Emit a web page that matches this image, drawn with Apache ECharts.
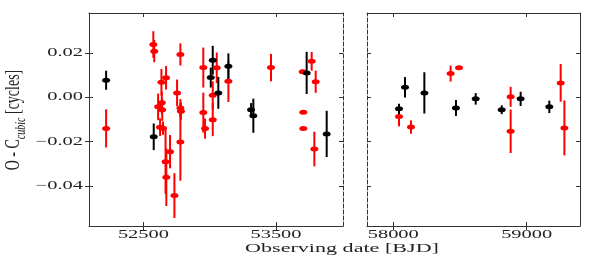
<!DOCTYPE html>
<html><head><meta charset="utf-8">
<script src="https://cdn.jsdelivr.net/npm/echarts@6/dist/echarts.min.js"></script>
<style>html,body{margin:0;padding:0;background:#fff}#c{width:598px;height:259px}</style>
</head><body><div id="c"></div>
<script>
// ---- data ----
const blackDates  = [52219, 52578, 53008, 53023, 53065, 53141, 53312, 53329, 53731, 53882,
                     58043, 58088, 58233, 58470, 58618, 58813, 58955, 59170];
const blackValues = [0.0077, -0.0178, 0.0089, 0.0167, 0.0020, 0.0140, -0.0056, -0.0083, 0.0110, -0.0165,
                     -0.0052, 0.0045, 0.0020, -0.0048, -0.0007, -0.0056, -0.0007, -0.0043];
const blackErrors = [0.0043, 0.0060, 0.0045, 0.0065, 0.0072, 0.0058, 0.0030, 0.0077, 0.0095, 0.0104,
                     0.0023, 0.0046, 0.0093, 0.0036, 0.0026, 0.0020, 0.0032, 0.0028];

const redDates  = [52219, 52575, 52582, 52611, 52626, 52636, 52639, 52642, 52648, 52671, 52667, 52673,
                   52701, 52734, 52754, 52779, 52779, 52783, 52779, 52952, 52952, 52965, 53023, 53023,
                   53053, 53141, 53462, 53701, 53706, 53706, 53769, 53789, 53799,
                   58043, 58133, 58430, 58493, 58880, 58880, 59255, 59283];
const redValues = [-0.0140, 0.0238, 0.0208, -0.0043, -0.0135, 0.0068, -0.0025, -0.0056, -0.0139, 0.0088, -0.0290, -0.0360,
                   -0.0245, -0.0443, 0.0020, 0.0193, -0.0048, -0.0063, -0.0201, 0.0134, -0.0069, -0.0141, 0.0009, -0.0101,
                   0.0133, 0.0072, 0.0134, 0.0115, -0.0067, -0.0141, 0.0162, -0.0233, 0.0070,
                   -0.0086, -0.0134, 0.0107, 0.0133, 0.0002, -0.0153, 0.0065, -0.0138];
const redErrors = [0.0086, 0.0060, 0.0050, 0.0060, 0.0040, 0.0060, 0.0050, 0.0050, 0.0030, 0.0053, 0.0145, 0.0130,
                   0.0075, 0.0101, 0.0060, 0.0050, 0.0040, 0.0040, 0.0175, 0.0090, 0.0090, 0.0045, 0.0063, 0.0074,
                   0.0069, 0.0093, 0.0062, 0.0010, 0.0005, 0.0005, 0.0042, 0.0078, 0.0050,
                   0.0045, 0.0030, 0.0036, 0.0008, 0.0045, 0.0098, 0.0085, 0.0124];

const yTicks = [-0.04, -0.02, 0.00, 0.02];
const yTickLabels = ['\u22120.04', '\u22120.02', '0.00', '0.02'];
const leftXTicks = [52500, 53500];
const rightXTicks = [58000, 59000];
const xTitle = 'Observing date [BJD]';
const BREAK_DATE = 55000;

// ---- layout / style ----
const LEFT_RANGE = [52090, 54005], RIGHT_RANGE = [57803, 59400], Y_RANGE = [-0.058, 0.038];
const G0 = {left: 89, top: 13, width: 254, height: 213};
const G1 = {left: 367, top: 13, width: 213, height: 213};
const FRAME = '#333';
const FONT = '"Liberation Serif", "DejaVu Serif", serif';
const TXT = '#222';
const RED = '#ff0000', BLACK = '#000000';

function pick(dates, vals, errs, right) {
  const out = [];
  dates.forEach((d, i) => { if ((d > BREAK_DATE) === right) out.push([d, vals[i], errs[i]]); });
  return out;
}

function xAx(grid, pos, range, ticks, line, inside, dashed) {
  return {type: 'value', gridIndex: grid, position: pos, min: range[0], max: range[1],
    axisLine: {show: line, onZero: false, lineStyle: {color: FRAME, width: 1, type: dashed ? [4, 2] : 'solid'}},
    axisTick: {show: true, inside: inside, length: 4, customValues: ticks, lineStyle: {color: FRAME, width: 1}},
    axisLabel: {show: false}, splitLine: {show: false}};
}
function yAx(grid, pos, ticks, line, inside, dashed) {
  return {type: 'value', gridIndex: grid, position: pos, min: Y_RANGE[0], max: Y_RANGE[1],
    axisLine: {show: line, onZero: false, lineStyle: {color: FRAME, width: 1, type: dashed ? [4, 2] : 'solid'}},
    axisTick: {show: true, inside: inside, length: 4, customValues: ticks, lineStyle: {color: FRAME, width: 1}},
    axisLabel: {show: false}, splitLine: {show: false}};
}

function errSeries(data, color, xi, yi) {
  return {type: 'custom', xAxisIndex: xi, yAxisIndex: yi, data: data, silent: true,
    encode: {x: 0, y: 1},
    renderItem: function (params, api) {
      const x = api.value(0), v = api.value(1), e = api.value(2);
      const a = api.coord([x, v - e]), b = api.coord([x, v + e]);
      return {type: 'line', shape: {x1: a[0], y1: a[1], x2: b[0], y2: b[1]},
        style: {stroke: color, lineWidth: 2}};
    }};
}
function dotSeries(data, color, xi, yi) {
  return {type: 'scatter', xAxisIndex: xi, yAxisIndex: yi, data: data.map(d => [d[0], d[1]]),
    symbol: 'circle', symbolSize: [8, 5], itemStyle: {color: color, opacity: 1}, silent: true};
}

const chart = echarts.init(document.getElementById('c'), null, {renderer: 'canvas'});
const series = [];
[[redDates, redValues, redErrors, RED], [blackDates, blackValues, blackErrors, BLACK]].forEach(s => {
  const L = pick(s[0], s[1], s[2], false), R = pick(s[0], s[1], s[2], true);
  series.push(errSeries(L, s[3], 0, 0), errSeries(R, s[3], 3, 3));
  series.push(dotSeries(L, s[3], 0, 0), dotSeries(R, s[3], 3, 3));
});

chart.setOption({
  animation: false,
  backgroundColor: '#fff',
  grid: [G0, G1],
  xAxis: [
    xAx(0, 'bottom', LEFT_RANGE, leftXTicks, true, false, false),
    xAx(0, 'bottom', LEFT_RANGE, leftXTicks, false, true, false),
    xAx(0, 'top', LEFT_RANGE, leftXTicks, true, true, false),
    xAx(1, 'bottom', RIGHT_RANGE, rightXTicks, true, false, false),
    xAx(1, 'bottom', RIGHT_RANGE, rightXTicks, false, true, false),
    xAx(1, 'top', RIGHT_RANGE, rightXTicks, true, true, false)
  ],
  yAxis: [
    yAx(0, 'left', yTicks, true, false, false),
    yAx(0, 'left', yTicks, false, true, false),
    yAx(0, 'right', yTicks, true, true, true),
    yAx(1, 'left', yTicks, true, true, true),
    yAx(1, 'right', yTicks, true, true, false)
  ],
  series: series
});

// ---- text labels (positions come from the axes' own scales) ----
const SX = 1.7;
const graphics = [];
yTicks.forEach((v, i) => {
  const py = chart.convertToPixel({yAxisIndex: 0}, v);
  graphics.push({type: 'text', x: G0.left - 6, y: py, scaleX: SX, silent: true,
    style: {text: yTickLabels[i], font: '12px ' + FONT, fill: TXT, align: 'right', verticalAlign: 'middle'}});
});
[[leftXTicks, 0], [rightXTicks, 3]].forEach(pair => {
  pair[0].forEach(v => {
    const px = chart.convertToPixel({xAxisIndex: pair[1]}, v);
    graphics.push({type: 'text', x: px, y: G0.top + G0.height + 3, scaleX: SX, silent: true,
      style: {text: String(v), font: '12px ' + FONT, fill: TXT, align: 'center', verticalAlign: 'top'}});
  });
});
graphics.push({type: 'text', x: 342, y: 249, scaleX: SX, silent: true,
  style: {text: xTitle, font: '13px ' + FONT, fill: TXT, align: 'center', verticalAlign: 'middle'}});
graphics.push({type: 'text', x: 14, y: 120, rotation: Math.PI / 2, scaleY: 1.45, silent: true,
  style: {text: '{m|O - C}{s|cubic}{m| [cycles]}', align: 'center', verticalAlign: 'middle', fill: TXT,
    rich: {m: {font: '14px ' + FONT, fill: TXT, lineHeight: 20, verticalAlign: 'middle'},
           s: {font: 'italic 10px ' + FONT, fill: TXT, lineHeight: 10, verticalAlign: 'bottom'}}}});
chart.setOption({graphic: graphics});
</script></body></html>
